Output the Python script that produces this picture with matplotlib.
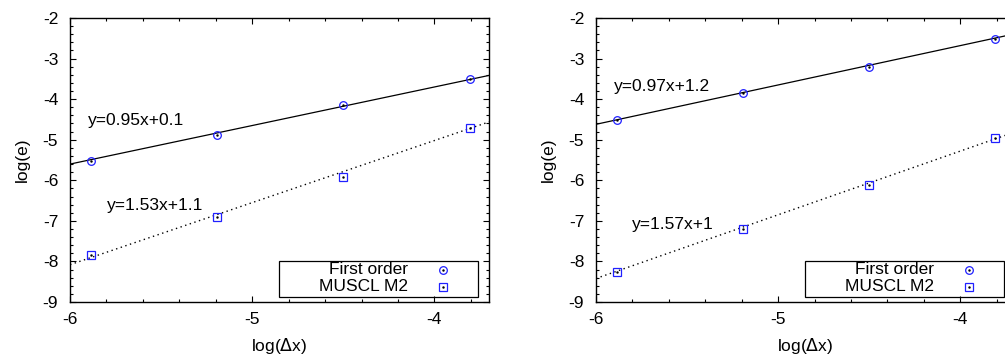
import numpy as np
import matplotlib
matplotlib.use('Agg')
import matplotlib.pyplot as plt
from matplotlib.patches import Rectangle
from matplotlib.ticker import MultipleLocator

plt.rcParams['font.family'] = ['Liberation Sans', 'DejaVu Sans']
plt.rcParams['font.size'] = 12.5
plt.rcParams['axes.unicode_minus'] = False

# log(dx) for the four grids
log_dx = [-5.886, -5.193, -4.500, -3.807]

# left panel
first_left = [-5.52, -4.89, -4.135, -3.50]
muscl_left = [-7.85, -6.90, -5.92, -4.72]
fit_left = [(0.95, 0.1), (1.53, 1.1)]
eq_left = ['y=0.95x+0.1', 'y=1.53x+1.1']
eq_pos_left = [(-5.9, -4.52), (-5.8, -6.62)]

# right panel
first_right = [-4.51, -3.86, -3.20, -2.52]
muscl_right = [-8.25, -7.20, -6.11, -4.96]
fit_right = [(0.97, 1.2), (1.57, 1.0)]
eq_right = ['y=0.97x+1.2', 'y=1.57x+1']
eq_pos_right = [(-5.9, -3.70), (-5.8, -7.10)]

labels = ['First order', 'MUSCL M2']
xlim = (-6, -3.7)
ylim = (-9, -2)
blue = '#2020ff'

fig = plt.figure(figsize=(10.05, 3.61), dpi=100)
ax1 = fig.add_axes([0.0697, 0.1634, 0.4169, 0.7867])
ax2 = fig.add_axes([0.593, 0.1634, 0.4169, 0.7867])


def draw_panel(ax, first, muscl, fits, eqs, eq_pos):
    xs = np.array(xlim)
    a, b = fits[0]
    ax.plot(xs, a * xs + b, color='black', lw=0.9, zorder=2)
    a, b = fits[1]
    ax.plot(xs, a * xs + b, color='black', lw=1.0, ls=(0, (1, 2.5)), zorder=2)

    ax.plot(log_dx, first, ls='none', marker='o', ms=5.5, mfc='none',
            mec=blue, mew=0.9, zorder=3)
    ax.plot(log_dx, muscl, ls='none', marker='s', ms=5.5, mfc='none',
            mec=blue, mew=0.9, zorder=3)
    ax.plot(log_dx + log_dx, first + muscl, ls='none', marker='.', ms=1.5,
            color='black', zorder=4)

    for t, (x, y) in zip(eqs, eq_pos):
        ax.text(x, y, t, ha='left', va='center')

    ax.set_xlim(xlim)
    ax.set_ylim(ylim)
    ax.xaxis.set_major_locator(MultipleLocator(1))
    ax.xaxis.set_minor_locator(MultipleLocator(0.2))
    ax.yaxis.set_major_locator(MultipleLocator(1))
    ax.yaxis.set_minor_locator(MultipleLocator(0.2))
    ax.tick_params(which='both', direction='in', top=True, right=True, width=0.8)
    ax.tick_params(which='major', length=4.5)
    ax.tick_params(which='minor', length=2.2)
    ax.tick_params(axis='y', pad=8.5)
    ax.tick_params(axis='x', pad=7)
    for s in ax.spines.values():
        s.set_linewidth(1.0)
    ax.set_xlabel(r'log($\Delta$x)', labelpad=7)
    ax.set_ylabel('log(e)', labelpad=9)

    # gnuplot style key box
    ax.add_patch(Rectangle((0.499, 0.0176), 0.475, 0.126, transform=ax.transAxes,
                           fill=False, ec='black', lw=0.9, zorder=5))
    rows = [0.113, 0.053]
    mk = ['o', 's']
    for lab, yy, m in zip(labels, rows, mk):
        ax.text(0.807, yy, lab, transform=ax.transAxes, ha='right', va='center',
                zorder=6)
        ax.plot([0.891], [yy], transform=ax.transAxes, marker=m, ms=5.5,
                mfc='none', mec=blue, mew=0.9, ls='none', clip_on=False, zorder=6)
        ax.plot([0.891], [yy], transform=ax.transAxes, marker='.', ms=1.5,
                color='black', ls='none', clip_on=False, zorder=6)


draw_panel(ax1, first_left, muscl_left, fit_left, eq_left, eq_pos_left)
draw_panel(ax2, first_right, muscl_right, fit_right, eq_right, eq_pos_right)

fig.savefig('out.png', dpi=100)
